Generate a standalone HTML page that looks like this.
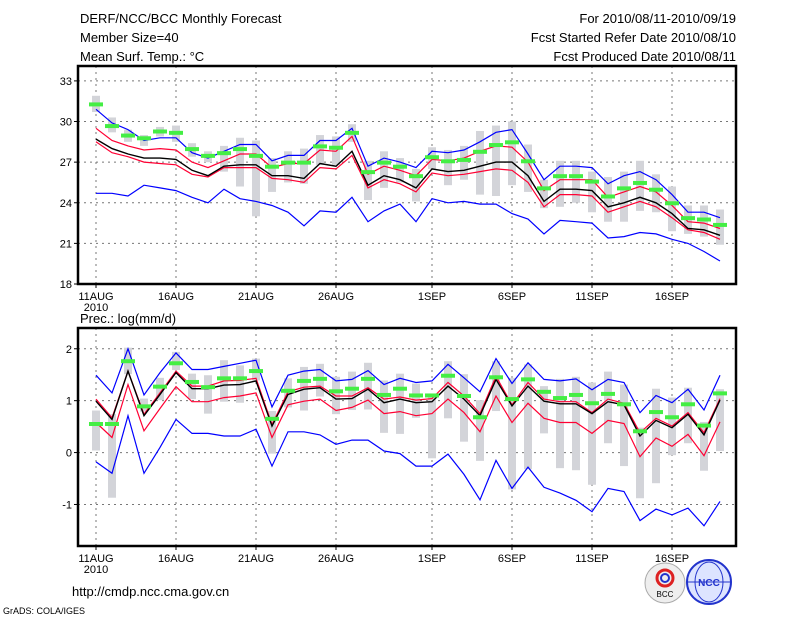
<!DOCTYPE html>
<html><head><meta charset="utf-8"><style>
body{margin:0;background:#fff;}
svg text{font-family:"Liberation Sans",sans-serif;fill:#000;}
</style></head><body>
<svg id="c" width="800" height="618" xmlns="http://www.w3.org/2000/svg">
<text x="80" y="23" font-size="13">DERF/NCC/BCC Monthly Forecast</text>
<text x="80" y="42" font-size="13">Member Size=40</text>
<text x="80" y="61" font-size="13">Mean Surf. Temp.: °C</text>
<text x="736" y="23" font-size="13" text-anchor="end">For 2010/08/11-2010/09/19</text>
<text x="736" y="42" font-size="13" text-anchor="end">Fcst Started Refer Date 2010/08/10</text>
<text x="736" y="61" font-size="13" text-anchor="end">Fcst Produced Date 2010/08/11</text>
<text x="80" y="323" font-size="13">Prec.: log(mm/d)</text>
<text x="72" y="596" font-size="13">http://cmdp.ncc.cma.gov.cn</text>
<text x="3" y="614" font-size="9">GrADS: COLA/IGES</text>
<g>
<circle cx="665" cy="583" r="20" fill="#eee" stroke="#aaa"/>
<circle cx="665" cy="578" r="8" fill="none" stroke="#d22" stroke-width="3"/>
<circle cx="665" cy="578" r="4" fill="none" stroke="#23c" stroke-width="2"/>
<text x="665" y="597" font-size="8" text-anchor="middle">BCC</text>
</g>
<g>
<circle cx="709" cy="582" r="22" fill="#dde4ff" stroke="#23c" stroke-width="2"/>
<ellipse cx="709" cy="582" rx="14" ry="20" fill="none" stroke="#23c"/>
<line x1="687" y1="582" x2="731" y2="582" stroke="#23c"/>
<text x="709" y="586" font-size="10" font-weight="bold" text-anchor="middle" fill="#23c" style="fill:#23c">NCC</text>
</g>
</svg>
<script>
// ---- Data: temperature panel ----
var days = ["11AUG","16AUG","21AUG","26AUG","1SEP","6SEP","11SEP","16SEP"];
var tTicks = [33,30,27,24,21,18];
var pTicks = [2,1,0,-1];
var tMax = [30.9,29.9,29.4,28.6,28.8,28.8,27.7,27.3,27.8,28.3,28.3,27.1,27.5,27.5,28.6,28.6,29.5,26.7,27.3,27.0,26.6,27.8,27.7,27.9,28.5,29.2,29.4,27.6,25.7,26.7,26.7,26.6,25.4,26.0,26.3,25.7,24.6,23.3,23.3,22.9];
var tRedHi = [29.5,28.6,28.2,27.9,28.0,27.9,27.0,26.6,27.1,27.6,27.6,26.6,26.9,26.9,27.9,27.8,28.9,26.1,26.7,26.4,26.0,27.2,27.1,27.3,27.8,28.2,28.1,27.0,24.9,25.7,25.7,25.7,24.4,24.8,25.2,24.8,23.8,22.6,22.5,22.1];
var tMean = [28.7,28.0,27.6,27.3,27.3,27.2,26.4,26.0,26.7,26.8,26.8,26.0,26.0,25.8,26.9,26.7,27.8,25.3,26.0,25.7,25.1,26.5,26.3,26.4,26.7,27.0,27.0,26.0,24.1,25.0,25.0,24.9,23.7,24.0,24.4,24.0,23.2,22.1,22.0,21.6];
var tRedLo = [28.5,27.7,27.4,27.0,26.9,26.8,26.1,25.9,26.6,26.6,26.6,25.8,25.7,25.5,26.6,26.5,27.5,25.1,25.7,25.4,24.8,26.2,26.0,26.1,26.3,26.5,26.4,25.5,23.7,24.6,24.6,24.5,23.3,23.7,24.1,23.7,22.9,22.0,21.8,21.3];
var tMin = [24.7,24.7,24.5,25.3,25.1,24.9,24.4,24.0,25.0,24.3,24.1,23.8,23.3,22.3,23.4,23.3,24.4,22.6,23.4,23.9,22.6,24.3,24.0,24.1,23.9,23.9,23.2,22.8,21.7,22.7,22.6,22.5,21.4,21.5,21.8,21.7,21.3,21.0,20.4,19.7];
var tObs = [31.3,29.7,29.0,28.8,29.3,29.2,28.0,27.5,27.7,28.0,27.5,26.7,27.0,27.0,28.2,28.1,29.2,26.3,27.0,26.7,26.0,27.4,27.1,27.2,27.8,28.3,28.5,27.1,25.1,26.0,26.0,25.6,24.5,25.1,25.5,25.0,24.0,22.9,22.8,22.4];
var tBoxHi = [31.9,30.3,29.4,29.0,29.6,29.7,28.4,27.8,28.2,28.8,28.6,27.3,27.8,28.0,29.0,28.9,29.8,27.1,27.8,27.3,26.5,28.1,27.9,28.2,29.3,29.7,30.0,28.3,25.7,27.1,27.1,26.3,25.9,26.3,27.1,26.1,25.2,23.8,23.8,23.5];
var tBoxLo = [30.7,29.2,28.5,28.2,28.9,28.5,27.4,27.0,26.3,25.2,23.0,24.8,25.5,25.4,26.8,26.8,28.5,24.2,25.1,25.5,24.1,26.5,25.3,25.7,24.6,24.5,25.3,24.8,23.6,23.7,24.0,23.3,22.6,22.6,23.4,23.3,21.9,21.7,21.5,20.9];
// ---- Data: precipitation panel ----
var pMax = [1.49,1.15,2.0,1.11,1.54,1.92,1.60,1.60,1.66,1.72,1.78,0.88,1.49,1.57,1.60,1.38,1.41,1.58,1.31,1.43,1.35,1.38,1.70,1.44,1.17,1.81,1.33,1.73,1.41,1.38,1.42,1.21,1.41,1.35,0.77,1.10,0.96,1.22,0.82,1.49];
var pRedHi = [1.03,0.67,1.57,0.74,1.15,1.57,1.28,1.28,1.38,1.39,1.43,0.54,1.17,1.26,1.28,1.09,1.09,1.25,1.03,1.07,1.01,1.04,1.35,1.09,0.75,1.47,0.92,1.35,1.03,0.98,0.98,0.77,1.03,0.95,0.38,0.66,0.51,0.77,0.38,1.04];
var pMean = [0.99,0.64,1.57,0.71,1.12,1.54,1.23,1.23,1.30,1.31,1.38,0.51,1.12,1.22,1.25,1.03,1.04,1.22,0.96,1.03,0.96,0.98,1.28,1.03,0.71,1.41,0.90,1.28,0.99,0.94,0.94,0.75,0.98,0.92,0.32,0.62,0.48,0.74,0.34,1.01];
var pRedLo = [0.58,0.29,1.31,0.42,0.85,1.27,0.98,0.98,1.06,1.09,1.15,0.29,0.92,0.99,1.03,0.81,0.87,1.01,0.75,0.79,0.71,0.75,1.03,0.77,0.40,1.09,0.58,0.95,0.66,0.58,0.58,0.37,0.62,0.56,-0.08,0.28,0.12,0.35,-0.06,0.59];
var pMin = [-0.18,-0.40,0.71,-0.40,0.10,0.64,0.37,0.37,0.32,0.32,0.45,-0.26,0.40,0.40,0.34,0.16,0.24,0.24,0.03,-0.02,-0.26,-0.26,-0.03,-0.42,-0.91,-0.15,-0.69,-0.28,-0.67,-0.78,-0.92,-1.14,-0.69,-0.75,-1.31,-1.09,-1.20,-1.07,-1.41,-0.94];
var pObs = [0.56,0.56,1.77,0.90,1.28,1.73,1.37,1.27,1.44,1.44,1.58,0.66,1.20,1.39,1.43,1.19,1.24,1.43,1.12,1.24,1.11,1.11,1.49,1.10,0.69,1.46,1.04,1.42,1.18,1.06,1.12,0.96,1.14,0.94,0.42,0.79,0.69,0.94,0.53,1.15];
var pBoxHi = [0.81,0.74,2.02,1.04,1.44,1.94,1.52,1.49,1.78,1.68,1.81,0.80,1.43,1.65,1.71,1.46,1.56,1.73,1.39,1.52,1.33,1.12,1.76,1.51,1.01,1.76,1.44,1.70,1.28,1.42,1.46,1.35,1.56,1.31,0.48,1.23,1.06,1.25,0.59,1.22];
var pBoxLo = [0.04,-0.87,1.51,0.79,1.01,1.59,1.03,0.75,0.98,0.96,1.39,-0.02,0.87,0.81,1.08,0.74,0.82,0.83,0.38,0.36,0.67,-0.11,0.66,0.21,-0.16,0.80,-0.71,-0.32,0.37,-0.30,-0.34,-0.62,0.18,-0.26,-0.88,-0.59,-0.05,0.18,-0.35,0.03];

var svg = document.getElementById('c');
var NS = 'http://www.w3.org/2000/svg';
var X0 = 78, X1 = 736;
function xDay(i){ return 96 + i*16; }
function mk(tag, attrs){ var e=document.createElementNS(NS,tag); for(var k in attrs) e.setAttribute(k,attrs[k]); svg.appendChild(e); return e; }

function panel(top, bottom, vTop, vBot, ticks, series, prefix){
  function yv(v){ return top + (vTop - v)/(vTop - vBot)*(bottom - top); }
  // grid
  ticks.forEach(function(t){
    var y = yv(t);
    var g = mk('line',{x1:X0,x2:X1,y1:y,y2:y,stroke:'#777','stroke-dasharray':'2,4','stroke-width':1});
    
    
    var tk = mk('line',{x1:X0-4,x2:X0,y1:y,y2:y,stroke:'#000'});
    
    
    var tx = mk('text',{x:X0-6,y:y+4,'font-size':11,'text-anchor':'end'});
    tx.textContent = t;
    
    
  });
  days.forEach(function(d,i){
    var x = xDay(i*5) + (i>=4?16:0);
    var g = mk('line',{x1:x,x2:x,y1:top,y2:bottom,stroke:'#777','stroke-dasharray':'2,4','stroke-width':1});
    
    
    var tk = mk('line',{x1:x,x2:x,y1:bottom,y2:bottom+4,stroke:'#000'});
    
    
    var tx = mk('text',{x:x,y:bottom+16,'font-size':11,'text-anchor':'middle'});
    tx.textContent = d;
    
    
  });
  var yr = mk('text',{x:xDay(0),y:bottom+27,'font-size':11,'text-anchor':'middle'});
  yr.textContent = '2010';
  
  
  // boxes
  series.boxHi.forEach(function(h,i){
    var lo = series.boxLo[i];
    var r = mk('rect',{x:xDay(i)-4,y:yv(h),width:8,height:Math.max(1,yv(lo)-yv(h)),fill:'#d3d4d9'});
    
    
  });
  function line(arr,color,w,name){
    var pts = arr.map(function(v,i){ return xDay(i)+','+yv(v).toFixed(1); }).join(' ');
    var p = mk('polyline',{points:pts,fill:'none',stroke:color,'stroke-width':w});
    
    
  }
  line(series.min,'#0000ff',1.2,prefix+'-min-line');
  line(series.max,'#0000ff',1.2,prefix+'-max-line');
  line(series.lo,'#ff0033',1.2,prefix+'-lower-line');
  line(series.hi,'#ff0033',1.2,prefix+'-upper-line');
  line(series.mean,'#000000',1.4,prefix+'-mean-line');
  series.obs.forEach(function(v,i){
    var r = mk('rect',{x:xDay(i)-7,y:yv(v)-1.5,width:14,height:4,fill:'#44ee44'});
    
    
  });
  var b = mk('rect',{x:X0,y:top,width:X1-X0,height:bottom-top,fill:'none',stroke:'#000','stroke-width':2.5});
  
  
}
panel(66, 284, 34.1, 18, tTicks, {boxHi:tBoxHi,boxLo:tBoxLo,max:tMax,hi:tRedHi,mean:tMean,lo:tRedLo,min:tMin,obs:tObs}, 'temp');
panel(328, 546, 2.4, -1.8, pTicks, {boxHi:pBoxHi,boxLo:pBoxLo,max:pMax,hi:pRedHi,mean:pMean,lo:pRedLo,min:pMin,obs:pObs}, 'prec');
</script>
</body></html>
